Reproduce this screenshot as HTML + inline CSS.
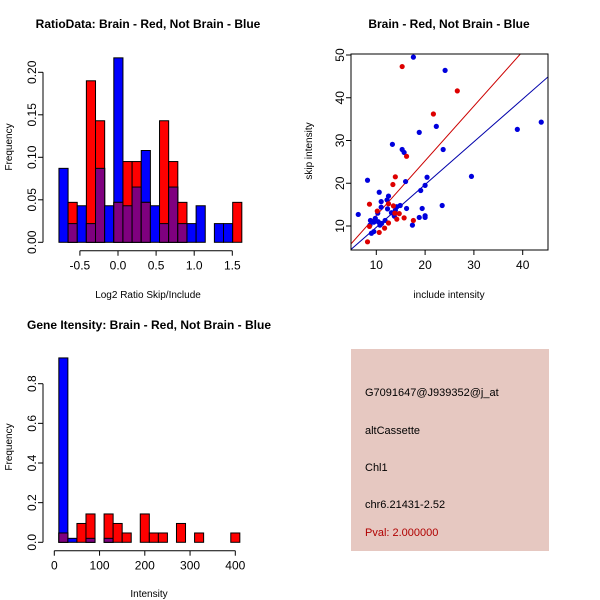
<!DOCTYPE html>
<html><head><meta charset="utf-8"><style>body{margin:0;background:#fff}svg{display:block;font-family:"Liberation Sans",sans-serif}</style></head>
<body>
<svg id="s" width="600" height="600" viewBox="0 0 600 600" xmlns="http://www.w3.org/2000/svg">
<rect x="351" y="349" width="198" height="202" fill="#e6c8c1"/>
<g font-size="11" fill="#000">
<text x="365" y="396">G7091647@J939352@j_at</text>
<text x="365" y="434">altCassette</text>
<text x="365" y="471">Chl1</text>
<text x="365" y="508">chr6.21431-2.52</text>
<text x="365" y="536" fill="#b00000">Pval: 2.000000</text>
</g>
</svg>
<script>
// ---- Ratio histogram data ----
const ratioBreakStart = -0.775;
const ratioBinWidth = 0.12;
const ratioBlue = [0.087,0.022,0.043,0.022,0.087,0.043,0.217,0.043,0.065,0.108,0.043,0.022,0.065,0.022,0.022,0.043,0,0.022,0.022,0];
const ratioRed  = [0,0.047,0,0.19,0.143,0,0.047,0.095,0.095,0.047,0,0.143,0.095,0.047,0,0,0,0,0,0.047];
const ratioXTicks = [-0.5,0,0.5,1,1.5];
const ratioXLabels = ["-0.5","0.0","0.5","1.0","1.5"];
const ratioYTicks = [0,0.05,0.1,0.15,0.2];
const ratioYLabels = ["0.00","0.05","0.10","0.15","0.20"];
// ---- Intensity histogram data ----
const intBreakStart = 10;
const intBinWidth = 20;
const intBlue = [0.93,0.02,0,0.02,0,0.02,0,0,0,0,0,0,0,0,0,0,0,0,0,0];
const intRed  = [0.047,0,0.095,0.143,0,0.143,0.095,0.047,0,0.143,0.047,0.047,0,0.095,0,0.047,0,0,0,0.047];
const intXTicks = [0,100,200,300,400];
const intYTicks = [0,0.2,0.4,0.6,0.8];
const intYLabels = ["0.0","0.2","0.4","0.6","0.8"];
// ---- Scatter data ----
const blueX = [17.6,24.1,18.8,22.3,13.3,15.3,15.7,23.7,38.9,43.8,29.5,8.2,16.0,20.4,20.0,19.1,10.6,12.5,11.0,12.2,11.0,12.3,14.9,14.2,13.9,13.8,13.7,16.2,19.4,23.5,20.0,20.0,18.8,17.4,6.3,10.3,9.8,8.8,9.5,10.4,11.1,11.8,9.5,9.0,8.7,13.1,10.75];
const blueY = [49.5,46.4,31.9,33.3,29.1,27.9,27.2,27.9,32.6,34.3,21.6,20.7,20.4,21.4,19.5,18.3,17.9,17.0,15.7,16.1,14.4,14.0,14.8,14.5,13.7,13.0,12.3,14.1,14.1,14.8,12.4,12.0,12.0,10.2,12.7,13.0,11.8,11.3,10.9,11.0,10.6,11.3,8.7,8.3,10.2,13.1,10.2];
const redX = [15.3,26.6,21.7,16.2,13.9,13.4,8.6,12.5,13.5,10.2,14.7,13.8,15.7,17.6,12.5,11.7,10.6,8.2,8.6,14.2];
const redY = [47.3,41.6,36.2,26.3,21.5,19.7,15.1,15.2,14.7,13.5,12.9,13.0,11.9,11.3,10.7,9.5,8.5,6.3,9.9,11.6];
const fitSlopes = [1.28,1.0];
const fitIntercepts = [-0.35,-0.3];
const fitColors = ["#cc0000","#0000aa"];
const scXTicks = [10,20,30,40];
const scYTicks = [10,20,30,40,50];

const NS="http://www.w3.org/2000/svg", svg=document.getElementById('s');
function mk(tag,attrs,parent){const e=document.createElementNS(NS,tag);for(const k in attrs)e.setAttribute(k,attrs[k]);(parent||svg).appendChild(e);return e;}
function txt(x,y,s,size,anchor,rot,bold,parent){const t=mk('text',{x:x,y:y,'font-size':size,'text-anchor':anchor||'middle'},parent);if(rot)t.setAttribute('transform','rotate(-90 '+x+' '+y+')');if(bold)t.setAttribute('font-weight','bold');t.textContent=s;return t;}

function hist(opts){
  const g=mk('g',{});
  
  
  const sx=v=>opts.x0+v*opts.kx, sy=v=>opts.y0-v*opts.ky;
  for(let i=0;i<opts.blue.length;i++){
    const a=opts.start+i*opts.w, b=a+opts.w;
    const x=sx(a), wpx=sx(b)-sx(a);
    const bl=opts.blue[i], rd=opts.red[i], mn=Math.min(bl,rd);
    if(bl>0){const r=mk('rect',{x:x,y:sy(bl),width:wpx,height:sy(0)-sy(bl),fill:'#0000ff',stroke:'#000','stroke-width':1},g);
      
      }
    if(rd>0){const r=mk('rect',{x:x,y:sy(rd),width:wpx,height:sy(0)-sy(rd),fill:'#ff0000',stroke:'#000','stroke-width':1},g);
      
      }
    if(mn>0){const r=mk('rect',{x:x,y:sy(mn),width:wpx,height:sy(0)-sy(mn),fill:'#7f007f',stroke:'#000','stroke-width':1},g);
      
      }
  }
  const ay=opts.axisY;
  mk('line',{x1:sx(opts.xt[0]),x2:sx(opts.xt[opts.xt.length-1]),y1:ay,y2:ay,stroke:'#000'},g);
  opts.xt.forEach((v,i)=>{mk('line',{x1:sx(v),x2:sx(v),y1:ay,y2:ay+5,stroke:'#000'},g);txt(sx(v),ay+19,opts.xl[i],12,'middle',false,false,g);});
  const ax=opts.axisX;
  mk('line',{x1:ax,x2:ax,y1:sy(opts.yt[0]),y2:sy(opts.yt[opts.yt.length-1]),stroke:'#000'},g);
  opts.yt.forEach((v,i)=>{mk('line',{x1:ax,x2:ax-5,y1:sy(v),y2:sy(v),stroke:'#000'},g);txt(ax-7,sy(v),opts.yl[i],12,'middle',true,false,g);});
  txt(opts.titleX,opts.titleY,opts.title,12,'middle',false,true,g);
  txt((opts.xlabX),opts.xlabY,opts.xlab,10,'middle',false,false,g);
  txt(12,opts.ylabY,'Frequency',10,'middle',true,false,g);
}
hist({name:'ratio-histogram',blue:ratioBlue,red:ratioRed,start:ratioBreakStart,w:ratioBinWidth,x0:118,kx:76.2,y0:242.3,ky:850,
  xt:ratioXTicks,xl:ratioXLabels,yt:ratioYTicks,yl:ratioYLabels,axisY:250.7,axisX:43,title:'RatioData: Brain - Red, Not Brain - Blue',titleX:148,titleY:28,xlab:'Log2 Ratio Skip/Include',xlabX:148,xlabY:298,ylabY:147});
hist({name:'intensity-histogram',blue:intBlue,red:intRed,start:intBreakStart,w:intBinWidth,x0:54.3,kx:0.4525,y0:542.3,ky:198.25,
  xt:intXTicks,xl:intXTicks.map(String),yt:intYTicks,yl:intYLabels,axisY:550.7,axisX:43,title:'Gene Itensity: Brain - Red, Not Brain - Blue',titleX:149,titleY:329,xlab:'Intensity',xlabX:149,xlabY:597,ylabY:447});

// scatter
(function(){
  const g=mk('g',{});
  
  
  const L=351,R=548,T=54,B=250;
  const sx=v=>327.5+v*4.88, sy=v=>268.75-v*4.275;
  const cp=mk('clipPath',{id:'cp'},g);mk('rect',{x:L,y:T,width:R-L,height:B-T},cp);
  fitSlopes.forEach((m,i)=>{const x1=0,x2=60;const l=mk('line',{x1:sx(x1),y1:sy(fitIntercepts[i]+m*x1),x2:sx(x2),y2:sy(fitIntercepts[i]+m*x2),stroke:fitColors[i],'stroke-width':1,'clip-path':'url(#cp)'},g);
    
    });
  blueX.forEach((v,i)=>{const c=mk('circle',{cx:sx(v),cy:sy(blueY[i]),r:2.6,fill:'#0000dd'},g);
    
    });
  redX.forEach((v,i)=>{const c=mk('circle',{cx:sx(v),cy:sy(redY[i]),r:2.6,fill:'#dd0000'},g);
    
    });
  mk('rect',{x:L,y:T,width:R-L,height:B-T,fill:'none',stroke:'#000'},g);
  scXTicks.forEach(v=>{mk('line',{x1:sx(v),x2:sx(v),y1:B,y2:B+5,stroke:'#000'},g);txt(sx(v),B+19,String(v),12,'middle',false,false,g);});
  scYTicks.forEach(v=>{mk('line',{x1:L,x2:L-5,y1:sy(v),y2:sy(v),stroke:'#000'},g);txt(L-7,sy(v),String(v),12,'middle',true,false,g);});
  txt(449,28,'Brain - Red, Not Brain - Blue',12,'middle',false,true,g);
  txt(449,298,'include intensity',10,'middle',false,false,g);
  txt(312,151,'skip intensity',10,'middle',true,false,g);
})();
</script>
</body></html>
